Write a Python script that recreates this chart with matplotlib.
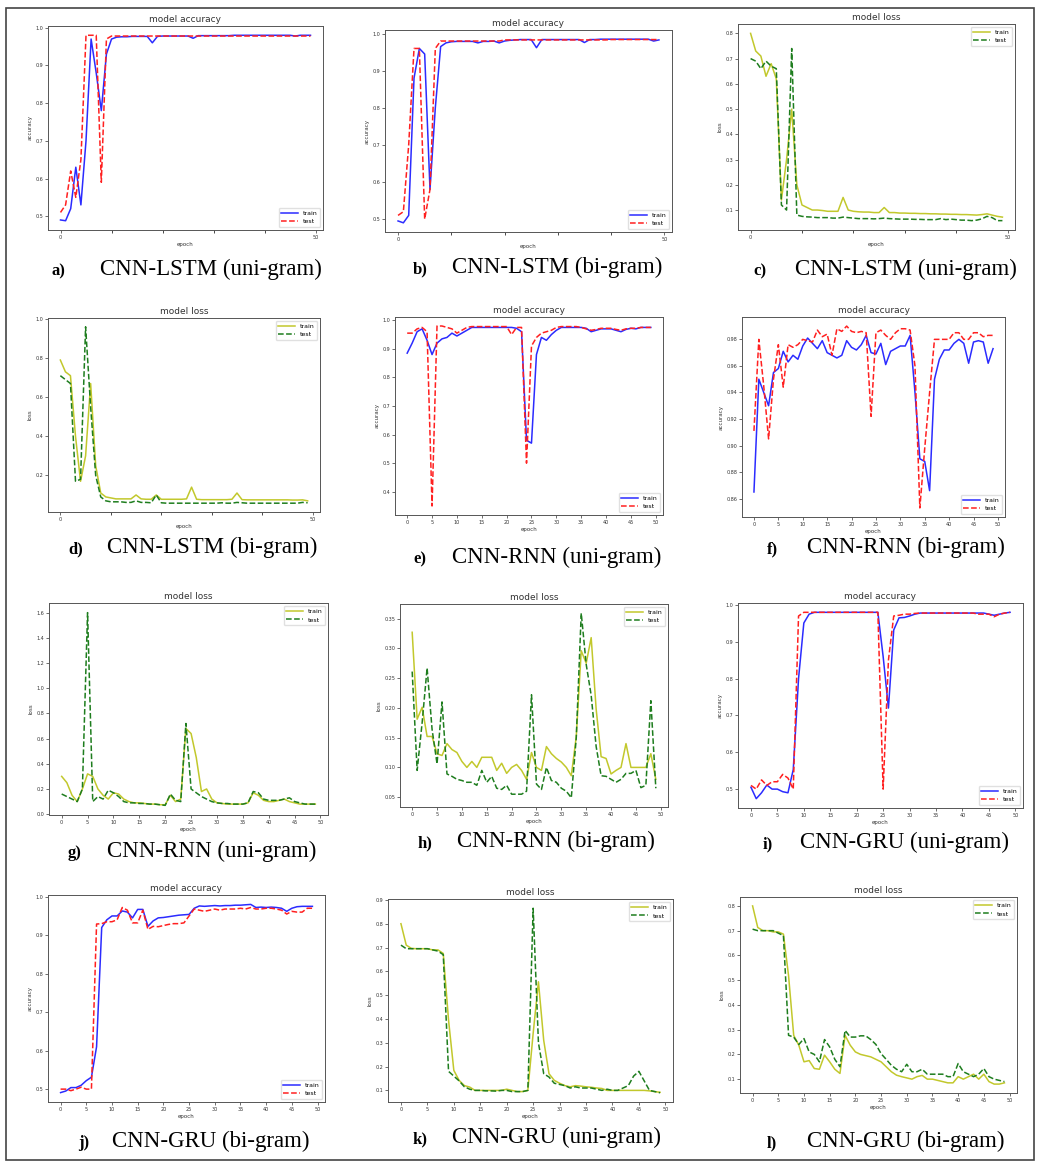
import matplotlib.pyplot as plt
from matplotlib.patches import Rectangle

W, H = 1039, 1166
epochs = list(range(50))

# a) CNN-LSTM (uni-gram) accuracy
acc_a_train = [0.49, 0.488, 0.52, 0.63, 0.53, 0.70, 0.97, 0.88, 0.78, 0.93, 0.97, 0.975, 0.976, 0.976, 0.977, 0.977, 0.977, 0.977, 0.96, 0.977,
               0.978, 0.978, 0.978, 0.978, 0.978, 0.978, 0.972, 0.979, 0.979, 0.979, 0.979, 0.979, 0.979, 0.979, 0.98, 0.98, 0.98, 0.98, 0.98, 0.98,
               0.98, 0.98, 0.98, 0.98, 0.98, 0.98, 0.978, 0.98, 0.98, 0.98]
acc_a_test = [0.51, 0.53, 0.62, 0.55, 0.65, 0.98, 0.98, 0.98, 0.59, 0.97, 0.978, 0.978, 0.978, 0.978, 0.978, 0.978, 0.978, 0.978, 0.978, 0.978,
              0.978, 0.978, 0.978, 0.978, 0.978, 0.978, 0.978, 0.978, 0.978, 0.978, 0.978, 0.978, 0.978, 0.978, 0.978, 0.978, 0.978, 0.978, 0.978, 0.978,
              0.978, 0.978, 0.978, 0.978, 0.978, 0.978, 0.978, 0.978, 0.978, 0.978]

# b) CNN-LSTM (bi-gram) accuracy
acc_b_train = [0.495, 0.49, 0.51, 0.88, 0.96, 0.945, 0.58, 0.80, 0.965, 0.975, 0.978, 0.979, 0.979, 0.979, 0.979, 0.975, 0.979, 0.979, 0.98, 0.975,
               0.98, 0.982, 0.983, 0.984, 0.984, 0.984, 0.962, 0.984, 0.984, 0.984, 0.984, 0.984, 0.984, 0.984, 0.984, 0.976, 0.984, 0.984, 0.985, 0.985,
               0.985, 0.985, 0.985, 0.985, 0.985, 0.985, 0.985, 0.985, 0.98, 0.983]
acc_b_test = [0.51, 0.52, 0.70, 0.96, 0.96, 0.50, 0.58, 0.96, 0.98, 0.98, 0.98, 0.98, 0.98, 0.98, 0.98, 0.98, 0.98, 0.98, 0.98, 0.98,
              0.983, 0.983, 0.983, 0.983, 0.983, 0.983, 0.983, 0.983, 0.983, 0.983, 0.983, 0.983, 0.983, 0.983, 0.983, 0.983, 0.983, 0.983, 0.983, 0.983,
              0.984, 0.984, 0.984, 0.984, 0.984, 0.984, 0.984, 0.984, 0.984, 0.984]

# c) CNN-LSTM (uni-gram) loss
loss_c_train = [0.80, 0.73, 0.71, 0.63, 0.68, 0.62, 0.14, 0.30, 0.50, 0.20, 0.12, 0.11, 0.10, 0.10, 0.098, 0.095, 0.095, 0.095, 0.15, 0.10,
                0.095, 0.093, 0.092, 0.092, 0.09, 0.09, 0.11, 0.09, 0.09, 0.088, 0.088, 0.087, 0.087, 0.086, 0.086, 0.085, 0.085, 0.084, 0.084, 0.083,
                0.083, 0.082, 0.082, 0.081, 0.08, 0.082, 0.085, 0.08, 0.075, 0.072]
loss_c_test = [0.70, 0.69, 0.66, 0.69, 0.67, 0.66, 0.12, 0.10, 0.74, 0.08, 0.075, 0.073, 0.072, 0.07, 0.07, 0.07, 0.068, 0.068, 0.072, 0.07,
               0.068, 0.066, 0.066, 0.066, 0.065, 0.066, 0.068, 0.066, 0.065, 0.064, 0.064, 0.064, 0.063, 0.063, 0.062, 0.062, 0.062, 0.066, 0.062, 0.064,
               0.062, 0.06, 0.06, 0.058, 0.06, 0.065, 0.075, 0.07, 0.058, 0.058]

# d) CNN-LSTM (bi-gram) loss
loss_d_train = [0.79, 0.73, 0.71, 0.40, 0.17, 0.30, 0.67, 0.25, 0.11, 0.09, 0.085, 0.08, 0.08, 0.08, 0.08, 0.10, 0.08, 0.078, 0.078, 0.10,
                0.078, 0.078, 0.078, 0.078, 0.078, 0.08, 0.14, 0.078, 0.076, 0.076, 0.076, 0.076, 0.076, 0.076, 0.078, 0.11, 0.076, 0.075, 0.075, 0.075,
                0.075, 0.075, 0.075, 0.075, 0.075, 0.075, 0.074, 0.074, 0.075, 0.07]
loss_d_test = [0.71, 0.69, 0.67, 0.17, 0.18, 0.96, 0.55, 0.20, 0.09, 0.07, 0.065, 0.065, 0.065, 0.062, 0.062, 0.07, 0.062, 0.062, 0.06, 0.10,
               0.06, 0.058, 0.058, 0.058, 0.058, 0.058, 0.058, 0.058, 0.058, 0.058, 0.058, 0.058, 0.06, 0.058, 0.058, 0.062, 0.06, 0.058, 0.058, 0.058,
               0.058, 0.058, 0.058, 0.058, 0.058, 0.058, 0.058, 0.058, 0.062, 0.06]

# e) CNN-RNN (uni-gram) accuracy
acc_e_train = [0.885, 0.92, 0.96, 0.97, 0.93, 0.88, 0.92, 0.935, 0.94, 0.955, 0.945, 0.955, 0.965, 0.975, 0.975, 0.975, 0.975, 0.975, 0.975, 0.975,
               0.975, 0.975, 0.972, 0.96, 0.58, 0.57, 0.88, 0.94, 0.93, 0.95, 0.965, 0.975, 0.975, 0.975, 0.975, 0.975, 0.972, 0.96, 0.965, 0.97,
               0.97, 0.97, 0.965, 0.96, 0.968, 0.972, 0.97, 0.975, 0.975, 0.975]
acc_e_test = [0.955, 0.955, 0.97, 0.975, 0.96, 0.35, 0.98, 0.98, 0.975, 0.97, 0.955, 0.965, 0.975, 0.978, 0.978, 0.978, 0.978, 0.978, 0.978, 0.978,
              0.978, 0.95, 0.975, 0.975, 0.50, 0.91, 0.94, 0.955, 0.96, 0.965, 0.975, 0.978, 0.978, 0.978, 0.978, 0.975, 0.97, 0.965, 0.968, 0.972,
              0.972, 0.972, 0.968, 0.965, 0.97, 0.972, 0.972, 0.975, 0.975, 0.975]

# f) CNN-RNN (bi-gram) accuracy
acc_f_train = [0.865, 0.950, 0.94, 0.93, 0.955, 0.958, 0.971, 0.963, 0.968, 0.965, 0.975, 0.981, 0.977, 0.973, 0.979, 0.970, 0.968, 0.966, 0.968, 0.979,
               0.974, 0.972, 0.976, 0.983, 0.970, 0.969, 0.977, 0.961, 0.971, 0.973, 0.975, 0.975, 0.983, 0.94, 0.890, 0.888, 0.866, 0.950, 0.965, 0.972,
               0.972, 0.977, 0.980, 0.977, 0.962, 0.978, 0.979, 0.978, 0.962, 0.973]
acc_f_test = [0.911, 0.98, 0.945, 0.905, 0.95, 0.976, 0.944, 0.976, 0.974, 0.976, 0.98, 0.979, 0.978, 0.987, 0.982, 0.984, 0.968, 0.988, 0.986, 0.99,
              0.986, 0.985, 0.986, 0.985, 0.922, 0.985, 0.987, 0.983, 0.98, 0.985, 0.988, 0.988, 0.987, 0.96, 0.853, 0.898, 0.94, 0.98, 0.98, 0.98,
              0.98, 0.985, 0.985, 0.98, 0.98, 0.985, 0.985, 0.982, 0.983, 0.983]

# g) CNN-RNN (uni-gram) loss
loss_g_train = [0.30, 0.25, 0.15, 0.10, 0.20, 0.32, 0.30, 0.20, 0.15, 0.12, 0.17, 0.16, 0.12, 0.10, 0.09, 0.09, 0.085, 0.08, 0.08, 0.075,
                0.075, 0.15, 0.10, 0.12, 0.68, 0.64, 0.45, 0.18, 0.20, 0.12, 0.09, 0.085, 0.08, 0.08, 0.08, 0.08, 0.09, 0.17, 0.15, 0.11,
                0.10, 0.10, 0.11, 0.12, 0.10, 0.09, 0.08, 0.08, 0.08, 0.08]
loss_g_test = [0.16, 0.14, 0.12, 0.10, 0.20, 1.60, 0.10, 0.14, 0.12, 0.19, 0.17, 0.14, 0.10, 0.09, 0.09, 0.085, 0.085, 0.08, 0.08, 0.075,
               0.07, 0.16, 0.11, 0.10, 0.72, 0.20, 0.17, 0.14, 0.12, 0.10, 0.09, 0.085, 0.085, 0.08, 0.08, 0.08, 0.09, 0.18, 0.17, 0.12,
               0.11, 0.11, 0.11, 0.12, 0.13, 0.10, 0.09, 0.08, 0.08, 0.08]

# h) CNN-RNN (bi-gram) loss
loss_h_train = [0.327, 0.181, 0.201, 0.152, 0.152, 0.123, 0.12, 0.14, 0.13, 0.125, 0.11, 0.10, 0.11, 0.10, 0.117, 0.117, 0.117, 0.095, 0.107, 0.09,
                0.10, 0.105, 0.095, 0.08, 0.125, 0.10, 0.095, 0.135, 0.123, 0.115, 0.109, 0.10, 0.086, 0.152, 0.296, 0.275, 0.318, 0.198, 0.118, 0.115,
                0.089, 0.095, 0.10, 0.14, 0.10, 0.10, 0.10, 0.10, 0.123, 0.08]
loss_h_test = [0.261, 0.095, 0.175, 0.267, 0.164, 0.106, 0.21, 0.089, 0.085, 0.08, 0.078, 0.075, 0.075, 0.07, 0.095, 0.075, 0.085, 0.065, 0.063, 0.07,
               0.055, 0.055, 0.055, 0.06, 0.222, 0.072, 0.063, 0.10, 0.078, 0.075, 0.065, 0.06, 0.049, 0.15, 0.359, 0.273, 0.221, 0.135, 0.086, 0.085,
               0.08, 0.075, 0.08, 0.09, 0.09, 0.095, 0.066, 0.07, 0.212, 0.065]

# i) CNN-GRU (uni-gram) accuracy
acc_i_train = [0.505, 0.474, 0.49, 0.511, 0.50, 0.50, 0.493, 0.49, 0.553, 0.80, 0.951, 0.975, 0.98, 0.98, 0.98, 0.98, 0.98, 0.98, 0.98, 0.98,
               0.98, 0.98, 0.98, 0.98, 0.98, 0.86, 0.72, 0.932, 0.965, 0.966, 0.97, 0.975, 0.978, 0.978, 0.978, 0.978, 0.978, 0.978, 0.978, 0.978,
               0.978, 0.978, 0.978, 0.978, 0.978, 0.975, 0.972, 0.975, 0.978, 0.98]
acc_i_test = [0.51, 0.50, 0.525, 0.51, 0.52, 0.52, 0.54, 0.53, 0.50, 0.97, 0.98, 0.98, 0.98, 0.98, 0.98, 0.98, 0.98, 0.98, 0.98, 0.98,
              0.98, 0.98, 0.98, 0.98, 0.98, 0.50, 0.85, 0.97, 0.972, 0.975, 0.975, 0.977, 0.978, 0.978, 0.978, 0.978, 0.978, 0.978, 0.978, 0.978,
              0.978, 0.978, 0.978, 0.975, 0.975, 0.975, 0.968, 0.975, 0.978, 0.98]

# j) CNN-GRU (bi-gram) accuracy
acc_j_train = [0.491, 0.495, 0.504, 0.504, 0.51, 0.522, 0.531, 0.61, 0.92, 0.94, 0.95, 0.95, 0.963, 0.96, 0.945, 0.967, 0.967, 0.923, 0.937, 0.945,
               0.946, 0.948, 0.95, 0.952, 0.953, 0.954, 0.97, 0.976, 0.975, 0.976, 0.977, 0.976, 0.977, 0.977, 0.978, 0.978, 0.979, 0.98, 0.972, 0.973,
               0.972, 0.973, 0.972, 0.97, 0.962, 0.97, 0.974, 0.975, 0.975, 0.975]
acc_j_test = [0.50, 0.50, 0.496, 0.50, 0.505, 0.50, 0.50, 0.929, 0.93, 0.935, 0.935, 0.94, 0.972, 0.965, 0.932, 0.932, 0.965, 0.915, 0.923, 0.922,
              0.925, 0.928, 0.93, 0.93, 0.932, 0.95, 0.968, 0.965, 0.962, 0.965, 0.968, 0.965, 0.968, 0.968, 0.968, 0.97, 0.968, 0.972, 0.968, 0.968,
              0.97, 0.97, 0.968, 0.965, 0.955, 0.962, 0.96, 0.96, 0.97, 0.97]

# k) CNN-GRU (uni-gram) loss
loss_k_train = [0.80, 0.71, 0.696, 0.695, 0.695, 0.695, 0.69, 0.69, 0.675, 0.395, 0.184, 0.142, 0.12, 0.114, 0.10, 0.10, 0.10, 0.10, 0.10, 0.10,
                0.105, 0.10, 0.095, 0.095, 0.10, 0.339, 0.556, 0.31, 0.17, 0.142, 0.13, 0.12, 0.115, 0.12, 0.118, 0.115, 0.113, 0.11, 0.108, 0.10,
                0.10, 0.10, 0.10, 0.10, 0.10, 0.10, 0.10, 0.098, 0.095, 0.092]
loss_k_test = [0.71, 0.695, 0.695, 0.695, 0.695, 0.695, 0.69, 0.685, 0.67, 0.18, 0.16, 0.14, 0.115, 0.105, 0.10, 0.10, 0.098, 0.098, 0.097, 0.10,
               0.10, 0.095, 0.095, 0.095, 0.10, 0.865, 0.30, 0.17, 0.156, 0.13, 0.125, 0.12, 0.11, 0.115, 0.11, 0.11, 0.11, 0.105, 0.10, 0.105,
               0.10, 0.10, 0.11, 0.12, 0.16, 0.18, 0.14, 0.10, 0.095, 0.09]

# l) CNN-GRU (bi-gram) loss
loss_l_train = [0.80, 0.713, 0.70, 0.70, 0.695, 0.695, 0.686, 0.518, 0.277, 0.237, 0.17, 0.175, 0.143, 0.14, 0.197, 0.17, 0.14, 0.123, 0.277, 0.237,
                0.21, 0.20, 0.195, 0.19, 0.18, 0.17, 0.15, 0.13, 0.116, 0.11, 0.105, 0.10, 0.11, 0.115, 0.10, 0.10, 0.095, 0.09, 0.085, 0.085,
                0.11, 0.10, 0.11, 0.12, 0.10, 0.12, 0.09, 0.08, 0.08, 0.085]
loss_l_test = [0.706, 0.70, 0.70, 0.70, 0.70, 0.69, 0.68, 0.277, 0.27, 0.24, 0.264, 0.21, 0.20, 0.17, 0.26, 0.23, 0.18, 0.15, 0.297, 0.27,
               0.27, 0.275, 0.275, 0.26, 0.24, 0.203, 0.18, 0.156, 0.14, 0.13, 0.16, 0.13, 0.13, 0.14, 0.12, 0.12, 0.12, 0.12, 0.11, 0.11,
               0.163, 0.13, 0.12, 0.11, 0.12, 0.143, 0.11, 0.10, 0.095, 0.09]

letters = ["a)", "b)", "c)", "d)", "e)", "f)", "g)", "h)", "i)", "j)", "k)", "l)"]
captions = ["CNN-LSTM (uni-gram)", "CNN-LSTM (bi-gram)", "CNN-LSTM (uni-gram)",
            "CNN-LSTM (bi-gram)", "CNN-RNN (uni-gram)", "CNN-RNN (bi-gram)",
            "CNN-RNN (uni-gram)", "CNN-RNN (bi-gram)", "CNN-GRU (uni-gram)",
            "CNN-GRU (bi-gram)", "CNN-GRU (uni-gram)", "CNN-GRU (bi-gram)"]

# kind, train, test, axes box in px (left, top, right, bottom), caption (letter x, text x, baseline y), sparse x ticks
panels = [
    ("acc", acc_a_train, acc_a_test, (48, 26, 323, 230), (52, 100, 275), True),
    ("acc", acc_b_train, acc_b_test, (385, 30, 672, 232), (413, 452, 273), True),
    ("loss", loss_c_train, loss_c_test, (738, 24, 1015, 230), (753, 795, 275), True),
    ("loss", loss_d_train, loss_d_test, (48, 318, 320, 512), (68, 107, 553), True),
    ("acc", acc_e_train, acc_e_test, (395, 317, 663, 515), (413, 452, 563), False),
    ("acc", acc_f_train, acc_f_test, (742, 317, 1005, 517), (767, 807, 553), False),
    ("loss", loss_g_train, loss_g_test, (49, 603, 328, 815), (68, 107, 857), False),
    ("loss", loss_h_train, loss_h_test, (400, 604, 668, 807), (418, 457, 847), False),
    ("acc", acc_i_train, acc_i_test, (738, 603, 1023, 808), (763, 800, 848), False),
    ("acc", acc_j_train, acc_j_test, (48, 895, 325, 1102), (78, 112, 1147), False),
    ("loss", loss_k_train, loss_k_test, (388, 899, 673, 1102), (413, 452, 1143), False),
    ("loss", loss_l_train, loss_l_test, (740, 897, 1017, 1093), (767, 807, 1147), False),
]

fig = plt.figure(figsize=(W / 100, H / 100), dpi=100)

for i, (kind, tr, te, box, cap, sparse) in enumerate(panels):
    l, t, r, b = box
    ax = fig.add_axes([l / W, 1 - b / H, (r - l) / W, (b - t) / H])
    if kind == "acc":
        ax.plot(epochs, tr, color="#2b2bff", lw=1.1, label="train")
        ax.plot(epochs, te, color="#ff2020", ls="--", lw=1.1, label="test")
        ax.set_title("model accuracy", fontsize=6.5, pad=3, color="#333333")
        ax.set_ylabel("accuracy", fontsize=4, labelpad=2, color="#333333")
        ax.legend(loc="lower right", fontsize=4.5, handlelength=2.6, framealpha=0.9, edgecolor="#dddddd")
    else:
        ax.plot(epochs, tr, color="#c2c82c", lw=1.1, label="train")
        ax.plot(epochs, te, color="#1e7d1e", ls="--", lw=1.1, label="test")
        ax.set_title("model loss", fontsize=6.5, pad=3, color="#333333")
        ax.set_ylabel("loss", fontsize=4, labelpad=2, color="#333333")
        ax.legend(loc="upper right", fontsize=4.5, handlelength=2.6, framealpha=0.9, edgecolor="#dddddd")
    ax.set_xlabel("epoch", fontsize=4, labelpad=1.5, color="#333333")
    if sparse:
        ax.set_xticks([0, 50])
        ax.set_xticks([10, 20, 30, 40], minor=True)
    else:
        ax.set_xticks(range(0, 51, 5))
    ax.tick_params(labelsize=3.5, length=2, width=0.5, pad=1.5, colors="#333333")
    ax.tick_params(which="minor", length=2, width=0.5)
    for s in ax.spines.values():
        s.set_linewidth(0.7)
        s.set_color("#555555")

    lx, tx, by = cap
    fig.text(lx / W, 1 - by / H, letters[i], fontsize=12, fontweight="bold",
             family="Liberation Serif", va="baseline")
    fig.text(tx / W, 1 - by / H, captions[i], fontsize=16.5,
             family="Liberation Serif", va="baseline")

# outer frame around the whole figure
fig.patches.append(Rectangle((6 / W, 1 - 1160 / H), 1028 / W, 1152 / H, transform=fig.transFigure,
                             fill=False, edgecolor="#444444", lw=1.2))

fig.savefig("out.png", dpi=100)
